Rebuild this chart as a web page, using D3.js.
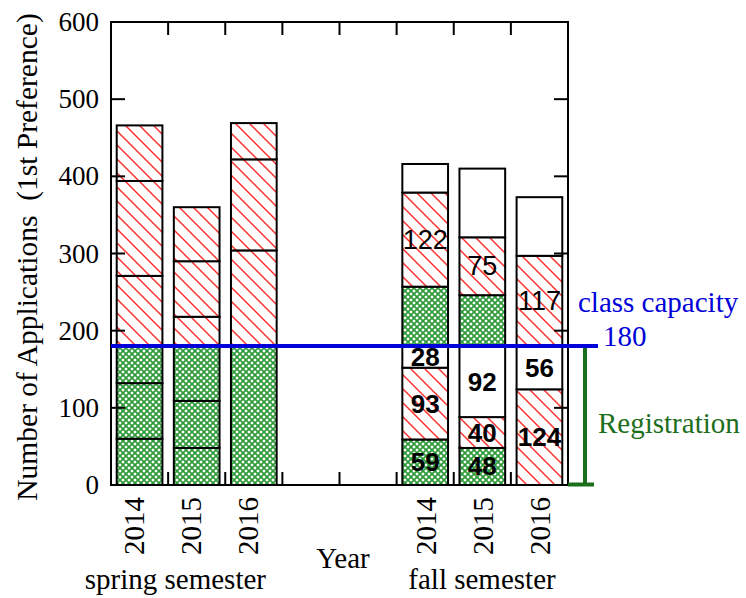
<!DOCTYPE html>
<html>
<head>
<meta charset="utf-8">
<script src="https://cdn.jsdelivr.net/npm/d3@7"></script>
<style>
  html, body { margin: 0; padding: 0; background: #fff; }
  svg { display: block; }
</style>
</head>
<body>
<svg id="chart" width="746" height="598"></svg>
<script>
// ---- data ----
const slots = ["s2014", "s2015", "s2016", "gap1", "gap2", "f2014", "f2015", "f2016"];
const barSlots = ["s2014", "s2015", "s2016", "f2014", "f2015", "f2016"];
const yearLabels = ["2014", "2015", "2016", "2014", "2015", "2016"];
const semester = ["spring", "spring", "spring", "fall", "fall", "fall"];
// registered part (stacked up to capacity)
const lowerA = [60, 48, 180, 59, 48, 0];
const lowerB = [72, 61, 0, 93, 40, 124];
const lowerC = [48, 71, 0, 28, 92, 56];
// applications above capacity
const upperA = [91, 38, 124, 77, 66, 0];
const upperB = [123, 72, 118, 122, 75, 117];
const upperC = [72, 70, 47, 37, 89, 76];
const fillSpring = ["green", "green", "green", "red", "red", "red"];
const fillFall = ["green", "red", "white", "green", "red", "white"];
const yTicks = [0, 100, 200, 300, 400, 500, 600];
const capacity = 180;

// ---- layout ----
const svg = d3.select("#chart");
const L = 111, R = 568, T = 22, B = 485;
const x = d3.scaleBand().domain(slots).range([L, R]).paddingInner(0.2).paddingOuter(0.1);
const y = d3.scaleLinear().domain([0, 600]).range([B, T]);
const serif = "Liberation Serif";
const sans = "Liberation Sans";
const blue = "#0000d8";
const dgreen = "#1b6e1b";

// patterns
const defs = svg.append("defs");
const hatch = defs.append("pattern").attr("id", "hatch")
  .attr("patternUnits", "userSpaceOnUse").attr("width", 14).attr("height", 14);
hatch.append("rect").attr("width", 14).attr("height", 14).attr("fill", "#fff");
hatch.append("path").attr("d", "M-2,-2 L16,16 M-2,12 L2,16 M12,-2 L16,2")
  .attr("stroke", "#ff3030").attr("stroke-width", 1.5).attr("fill", "none");
const grn = defs.append("pattern").attr("id", "grn")
  .attr("patternUnits", "userSpaceOnUse").attr("width", 6).attr("height", 6);
grn.append("rect").attr("width", 6).attr("height", 6).attr("fill", "#fff");
grn.append("path").attr("d", "M0,0 L6,6 M6,0 L0,6 M-1,5 L1,7 M5,-1 L7,1 M-1,1 L1,-1 M5,7 L7,5")
  .attr("stroke", "#2f9a3a").attr("stroke-width", 1.7).attr("fill", "none");
const fillOf = { green: "url(#grn)", red: "url(#hatch)", white: "#fff" };

// build segments
const segs = [];
barSlots.forEach((s, i) => {
  const vals = [lowerA[i], lowerB[i], lowerC[i], upperA[i], upperB[i], upperC[i]];
  const fills = semester[i] === "spring" ? fillSpring : fillFall;
  let acc = 0;
  vals.forEach((v, k) => {
    segs.push({ slot: s, bar: i, k, v, y0: acc, y1: acc + v, fill: fills[k] });
    acc += v;
  });
});

// bars
svg.append("g").selectAll("rect").data(segs).join("rect")
  .attr("x", d => x(d.slot))
  .attr("width", x.bandwidth())
  .attr("y", d => y(d.y1))
  .attr("height", d => y(d.y0) - y(d.y1))
  .attr("fill", d => fillOf[d.fill])
  .attr("stroke", "#000").attr("stroke-width", 2);

// segment labels (fall semester)
const lab = svg.append("g");
segs.filter(d => semester[d.bar] === "fall" && d.v > 0 && (d.k < 3 || d.k === 4))
  .forEach(d => {
    lab.append("text")
      .attr("x", x(d.slot) + x.bandwidth() / 2)
      .attr("y", (y(d.y0) + y(d.y1)) / 2)
      .attr("text-anchor", "middle")
      .attr("dominant-baseline", "central")
      .attr("font-family", sans)
      .attr("font-size", d.k < 3 ? 26 : 27)
      .attr("font-weight", d.k < 3 ? "bold" : "normal")
      .attr("fill", "#000")
      .text(d.v);
  });

// frame and ticks
const ax = svg.append("g").attr("stroke", "#000").attr("stroke-width", 2).attr("fill", "none");
ax.append("rect").attr("x", L).attr("y", T).attr("width", R - L).attr("height", B - T);
yTicks.forEach(t => {
  ax.append("line").attr("x1", L).attr("x2", L + 14).attr("y1", y(t)).attr("y2", y(t));
  ax.append("line").attr("x1", R).attr("x2", R - 14).attr("y1", y(t)).attr("y2", y(t));
});
const step = x.step();
d3.range(1, slots.length).forEach(k => {
  const xx = L + k * step;
  ax.append("line").attr("x1", xx).attr("x2", xx).attr("y1", T).attr("y2", T + 13);
  ax.append("line").attr("x1", xx).attr("x2", xx).attr("y1", B).attr("y2", B - 13);
});

// y tick labels
svg.append("g").selectAll("text").data(yTicks).join("text")
  .attr("x", 99).attr("y", d => y(d))
  .attr("text-anchor", "end").attr("dominant-baseline", "central")
  .attr("font-family", serif).attr("font-size", 27)
  .text(d => d);

// y title
svg.append("text")
  .attr("transform", `translate(37,257) rotate(-90)`)
  .attr("text-anchor", "middle")
  .attr("font-family", serif).attr("font-size", 29.5)
  .style("white-space", "pre")
  .text("Number of Applications  (1st Preference)");

// year labels
barSlots.forEach((s, i) => {
  const off = semester[i] === "spring" ? 4 : 11;
  svg.append("text")
    .attr("transform", `translate(${x(s) + x.bandwidth() / 2 + off},497) rotate(-90)`)
    .attr("text-anchor", "end")
    .attr("font-family", serif).attr("font-size", 29)
    .text(yearLabels[i]);
});

svg.append("text").attr("x", 343).attr("y", 568).attr("text-anchor", "middle")
  .attr("font-family", serif).attr("font-size", 29).text("Year");
svg.append("text").attr("x", 266).attr("y", 589).attr("text-anchor", "end")
  .attr("font-family", serif).attr("font-size", 29).text("spring semester");
svg.append("text").attr("x", 482).attr("y", 589).attr("text-anchor", "middle")
  .attr("font-family", serif).attr("font-size", 29).text("fall semester");

// capacity line
svg.append("line").attr("x1", L).attr("x2", 598)
  .attr("y1", y(capacity)).attr("y2", y(capacity))
  .attr("stroke", blue).attr("stroke-width", 4);
svg.append("text").attr("x", 578).attr("y", 312)
  .attr("font-family", serif).attr("font-size", 29).attr("fill", blue).text("class capacity");
svg.append("text").attr("x", 603).attr("y", 346)
  .attr("font-family", serif).attr("font-size", 29).attr("fill", blue).text(capacity);

// registration bracket
svg.append("path")
  .attr("d", `M585,${y(capacity) + 2} L585,${B - 0.5} M568,${B - 0.5} L594,${B - 0.5}`)
  .attr("stroke", dgreen).attr("stroke-width", 4).attr("fill", "none");
svg.append("text").attr("x", 598).attr("y", 433)
  .attr("font-family", serif).attr("font-size", 29).attr("fill", dgreen).text("Registration");
</script>
</body>
</html>
